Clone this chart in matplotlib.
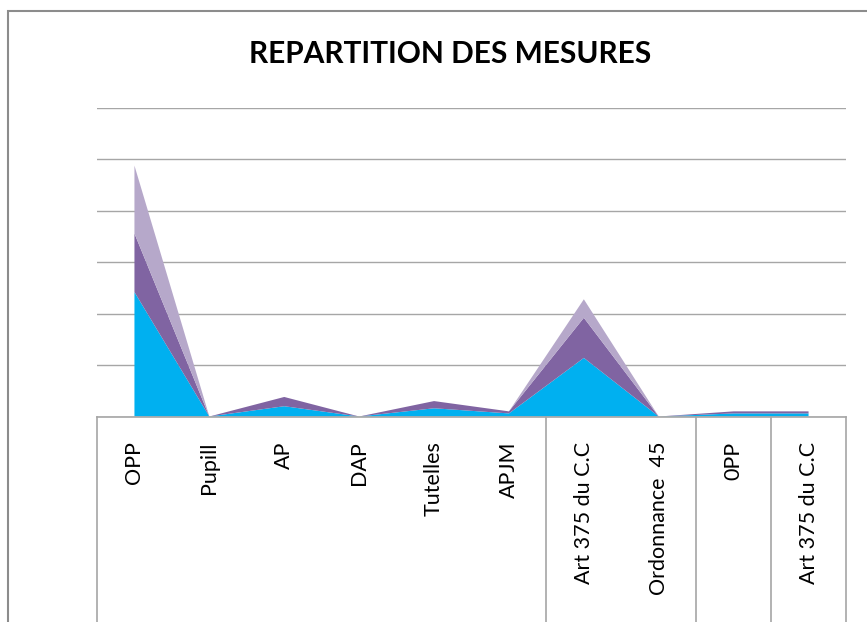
import matplotlib.pyplot as plt
import matplotlib.transforms as mtransforms
from matplotlib.patches import Rectangle

# Categories of the chart (first level of the category axis)
categories = ["OPP", "Pupill", "AP", "DAP", "Tutelles", "APJM",
              "Art 375 du C.C", "Ordonnance  45", "0PP", "Art 375 du C.C"]

# Stacked series
serie_1 = [121, 0, 10, 0, 8, 3, 57, 0, 3, 3]
serie_2 = [57, 0, 9, 0, 7, 2, 39, 0, 2, 2]
serie_3 = [66, 0, 0, 0, 0, 0, 18, 0, 0, 0]

# Group boundaries on the category axis
separators = [-0.5, 5.5, 7.5, 8.5, 9.5]

colors = ["#00B0F0", "#8064A2", "#B6A8CA"]
grid_color = "#A6A6A6"

plt.rcParams['font.family'] = ['Lato', 'DejaVu Sans']

fig = plt.figure(figsize=(8.67, 6.22), dpi=100)
ax = fig.add_axes([97 / 867, (622 - 416.5) / 622, (846 - 97) / 867, (416.5 - 108) / 622])

x = list(range(len(categories)))
ax.stackplot(x, serie_1, serie_2, serie_3, colors=colors, linewidth=0)

ax.set_xlim(-0.5, len(categories) - 0.5)
ax.set_ylim(0, 300)
ax.set_yticks(range(0, 301, 50))
ax.set_yticklabels([])
ax.yaxis.grid(True, color=grid_color, linewidth=1)
ax.set_axisbelow(True)
ax.tick_params(axis='y', length=0)

ax.set_xticks(x)
ax.set_xticklabels(categories, rotation=90, fontsize=15.5, color="#000000")
ax.tick_params(axis='x', length=0, pad=18)

for side in ["top", "left", "right"]:
    ax.spines[side].set_visible(False)
ax.spines["bottom"].set_color(grid_color)
ax.spines["bottom"].set_linewidth(1.2)

# Vertical lines of the category table
trans = mtransforms.blended_transform_factory(ax.transData, ax.transAxes)
for xv in separators:
    ax.plot([xv, xv], [0, -0.75], transform=trans, clip_on=False,
            color=grid_color, linewidth=1.2)

# Title
fig.text(450 / 867, 1 - 54 / 622, "REPARTITION DES MESURES",
         ha="center", va="center", fontsize=21.5, fontweight="bold")

# Chart border
fig.patches.append(Rectangle((8 / 867, -0.1), 1.2, 1.1 - 11 / 622,
                             transform=fig.transFigure, fill=False,
                             edgecolor="#8C8C8C", linewidth=1.5))

plt.savefig("out.png", dpi=100)
